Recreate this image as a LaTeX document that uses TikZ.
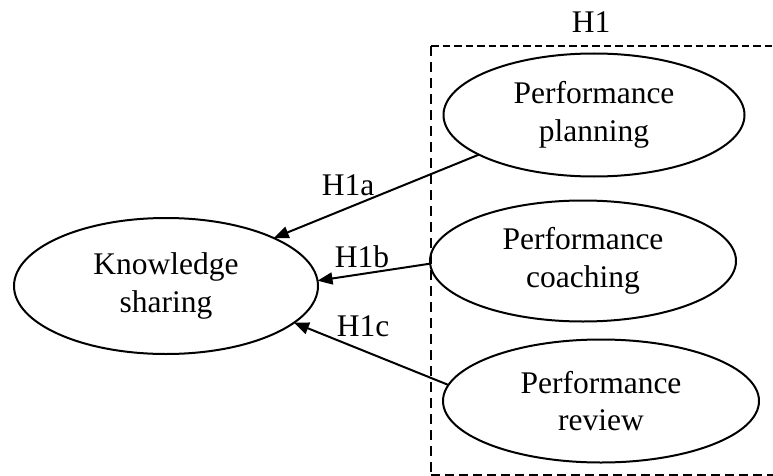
\documentclass[tikz,border=0pt]{standalone}
\usepackage{fontspec}
\setmainfont{Liberation Serif}
\usetikzlibrary{shapes.geometric,arrows.meta}
\begin{document}
\begin{tikzpicture}[x=1pt,y=-1pt,
  oval/.style={draw,ellipse,line width=2pt,inner sep=0pt,outer sep=0pt,align=center,font=\fontsize{31.5}{37.8}\selectfont},
  lbl/.style={anchor=base,inner sep=0pt,font=\fontsize{31.5}{37.8}\selectfont},
  arr/.style={line width=2pt,-{Triangle[length=15pt,width=12pt]}},
  grp/.style={line width=2.2pt}]
\useasboundingbox (0,0) rectangle (773,476);
\clip (0,0) rectangle (773,476);
\coordinate (gtr) at (800,46);
\coordinate (gtl) at (431,46);
\coordinate (gbl) at (431,475);
\coordinate (gbr) at (800,475);
\draw[grp,dash pattern=on 7.5pt off 4pt] (gtl) -- (gtr);
\draw[grp,dash pattern=on 10pt off 6pt] (gtl) -- (gbl);
\draw[grp,line width=1.6pt,dash pattern=on 9pt off 5pt] (gbl) -- (gbr);
\node[lbl] (h1) at (591,33) {H1};
\node[oval,minimum width=301pt,minimum height=123pt] (pp) at (594,115) {Performance\\planning};
\node[oval,minimum width=306pt,minimum height=121pt] (pc) at (583,261) {Performance\\coaching};
\node[oval,minimum width=316pt,minimum height=123pt] (pr) at (601,401) {Performance\\review};
\node[oval,minimum width=304pt,minimum height=136pt] (ks) at (166,286) {Knowledge\\sharing};
\draw[arr] (pp.199) -- (ks.24);
\draw[arr] (pc.181) -- (ks.2);
\draw[arr] (pr.174) -- (ks.344);
\node[lbl] (la) at (348,195) {H1a};
\node[lbl] (lb) at (362,267) {H1b};
\node[lbl] (lc) at (363,336) {H1c};
\end{tikzpicture}
\end{document}
